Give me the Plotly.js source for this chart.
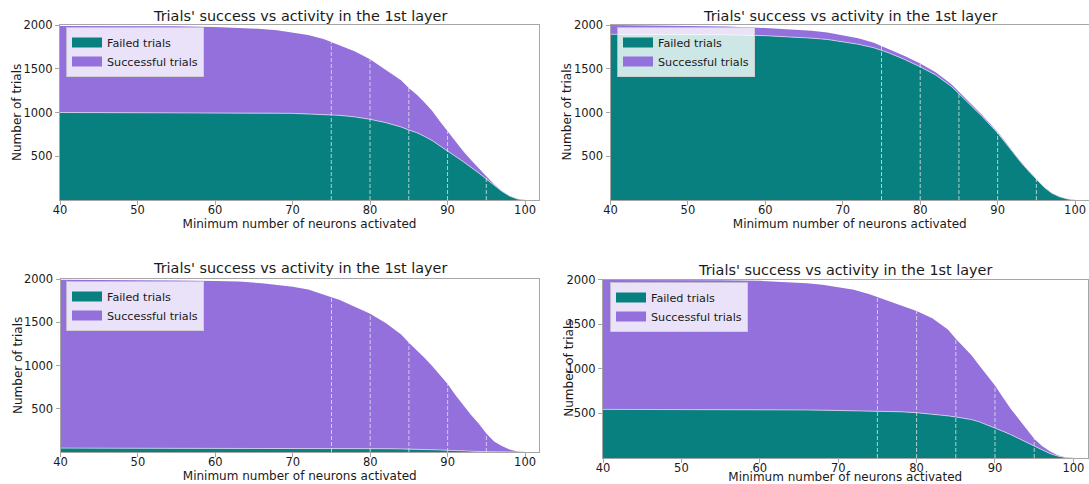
<!DOCTYPE html>
<html>
<head>
<meta charset="utf-8">
<script src="https://cdn.plot.ly/plotly-3.0.1.min.js"></script>
<style>html,body{margin:0;padding:0;background:#fff}#chart{width:1089px;height:484px}</style>
</head>
<body>
<div id="chart"></div>
<script>
// ---- data ----
const neurons = [40,45,50,55,60,63,66,68,70,72,74,75,76,78,80,82,84,85,86,87,88,89,90,91,92,93,94,95,96,97,98,99,100];
const xTicks = [40,50,60,70,80,90,100];
const yTicks = [500,1000,1500,2000];
const markLines = [75,80,85,90,95];
const titleText = "Trials' success vs activity in the 1st layer";
const xLabel = "Minimum number of neurons activated";
const yLabel = "Number of trials";
const seriesNames = ["Failed trials", "Successful trials"];

const failedA  = [1000,1000,1000,1000,1000,998,995,992,990,985,980,975,968,950,922,885,835,800,770,728,680,620,555,500,440,380,310,240,170,100,45,12,0];
const successA = [990,990,988,985,978,972,960,948,925,900,860,830,807,750,688,610,535,480,435,390,340,280,230,170,120,80,50,30,10,4,2,0,0];

const failedB  = [1894,1894,1892,1888,1878,1868,1850,1835,1808,1780,1740,1712,1680,1605,1522,1428,1300,1215,1130,1045,955,860,765,655,540,430,330,235,145,78,36,12,0];
const successB = [106,100,96,94,88,86,84,80,76,68,58,50,48,42,38,32,26,24,20,18,16,14,12,10,8,6,5,4,3,2,1,0,0];

const failedC  = [45,45,44,44,43,43,42,42,42,41,41,40,40,40,39,38,36,35,33,31,28,24,20,15,10,7,5,3,2,1,0,0,0];
const successC = [1945,1944,1942,1939,1934,1927,1910,1893,1868,1839,1784,1750,1720,1642,1559,1452,1322,1227,1147,1059,967,866,765,645,530,423,325,212,118,69,30,5,0];

const failedD  = [545,545,545,544,542,540,538,536,534,532,530,528,525,518,508,494,472,460,446,430,405,372,340,300,262,220,180,135,88,50,22,5,0];
const successD = [1450,1450,1449,1447,1443,1435,1420,1404,1380,1352,1305,1274,1245,1191,1138,1073,968,876,799,720,632,553,473,380,290,220,148,81,46,25,8,2,0];

// ---- styling / layout ----
const W = 1089, H = 484;
const TEAL = '#088080', PURPLE = '#9370DB';
const FONT = 'DejaVu Sans, Liberation Sans, sans-serif';
const TXT = '#1a1a1a';
const panels = [
  {f: failedA, s: successA, px: [60, 539],    py: [25, 200],    leg: [66, 27],  tt: [299.5, 16], yt: 17.5, xs: 2},
  {f: failedB, s: successB, px: [610.5, 1089], py: [25, 200],   leg: [617, 27], tt: [850, 16],   yt: 567,  xs: 2},
  {f: failedC, s: successC, px: [60.5, 539],  py: [279, 452],   leg: [66, 281], tt: [300, 268],  yt: 17.5, xs: 2},
  {f: failedD, s: successD, px: [603, 1087.5], py: [279.5, 458], leg: [610, 282], tt: [845, 270], yt: 569,  xs: 5}
];

const traces = [];
const layout = {
  width: W, height: H,
  margin: {l: 0, r: 0, t: 0, b: 0},
  paper_bgcolor: '#fff', plot_bgcolor: '#fff',
  font: {family: FONT, size: 12, color: TXT},
  annotations: [],
  showlegend: true
};

panels.forEach((p, i) => {
  const n = i === 0 ? '' : String(i + 1);
  const xa = 'x' + n, ya = 'y' + n;
  const legName = 'legend' + n;
  traces.push({
    type: 'scatter', mode: 'lines', x: neurons, y: p.f, name: seriesNames[0],
    xaxis: xa, yaxis: ya, stackgroup: 'g' + i, showlegend: false,
    line: {color: 'rgba(225,225,240,0.9)', width: 0.8},
    fillcolor: TEAL, hoverinfo: 'x+y'
  });
  traces.push({
    type: 'scatter', mode: 'lines', x: neurons, y: p.s, name: seriesNames[1],
    xaxis: xa, yaxis: ya, stackgroup: 'g' + i, showlegend: false,
    line: {color: PURPLE, width: 0},
    fillcolor: PURPLE, hoverinfo: 'x+y'
  });
  // legend entries (rectangular swatches)
  [TEAL, PURPLE].forEach((c, j) => {
    traces.push({
      type: 'scatter', mode: 'lines', x: [null], y: [null], name: seriesNames[j],
      xaxis: xa, yaxis: ya, legend: legName, showlegend: true, hoverinfo: 'skip',
      line: {color: c, width: 11}
    });
  });
  // dashed markers from 0 up to the stacked total
  const lx = [], ly = [];
  markLines.forEach(m => {
    const k = neurons.indexOf(m);
    lx.push(m, m, null);
    ly.push(0, p.f[k] + p.s[k], null);
  });
  traces.push({
    type: 'scatter', mode: 'lines', x: lx, y: ly, xaxis: xa, yaxis: ya,
    showlegend: false, hoverinfo: 'skip',
    line: {color: 'rgba(235,235,235,0.75)', width: 1, dash: '4px,2px'}
  });

  const axCommon = {
    showgrid: false, zeroline: false, showline: true, mirror: true,
    linecolor: '#a6a6a6', linewidth: 1, ticks: 'outside', ticklen: 4,
    tickcolor: '#a6a6a6', tickfont: {size: 11.5, color: TXT, family: FONT}
  };
  layout['xaxis' + n] = Object.assign({}, axCommon, {
    domain: [p.px[0] / W, p.px[1] / W], anchor: ya,
    range: [40, 101.8], tickvals: xTicks, ticktext: xTicks.map(String),
    ticklabelstandoff: -5,
    title: {text: xLabel, font: {size: 12, family: FONT, color: TXT}, standoff: p.xs}
  });
  layout['yaxis' + n] = Object.assign({}, axCommon, {
    domain: [1 - p.py[1] / H, 1 - p.py[0] / H], anchor: xa,
    range: [0, 2000], tickvals: yTicks, ticktext: yTicks.map(String),
    title: {text: ''}
  });
  layout[legName] = {
    x: p.leg[0] / W, y: 1 - p.leg[1] / H, xanchor: 'left', yanchor: 'top',
    xref: 'paper', yref: 'paper',
    bgcolor: 'rgba(255,255,255,0.8)', bordercolor: 'rgba(204,204,204,0.8)', borderwidth: 1,
    font: {size: 11.2, family: FONT, color: TXT}, traceorder: 'normal'
  };
  layout.annotations.push({
    xref: 'paper', yref: 'paper', x: p.tt[0] / W, y: 1 - p.tt[1] / H,
    xanchor: 'center', yanchor: 'middle', showarrow: false,
    text: titleText, font: {size: 14.4, family: FONT, color: TXT}
  });
  // y-axis title
  layout.annotations.push({
    xref: 'paper', yref: 'paper', x: p.yt / W, y: 1 - (p.py[0] + p.py[1]) / 2 / H,
    xanchor: 'center', yanchor: 'middle', showarrow: false, textangle: -90,
    text: yLabel, font: {size: 12, family: FONT, color: TXT}
  });
});

Plotly.newPlot('chart', traces, layout, {staticPlot: true, displayModeBar: false});
</script>
</body>
</html>
